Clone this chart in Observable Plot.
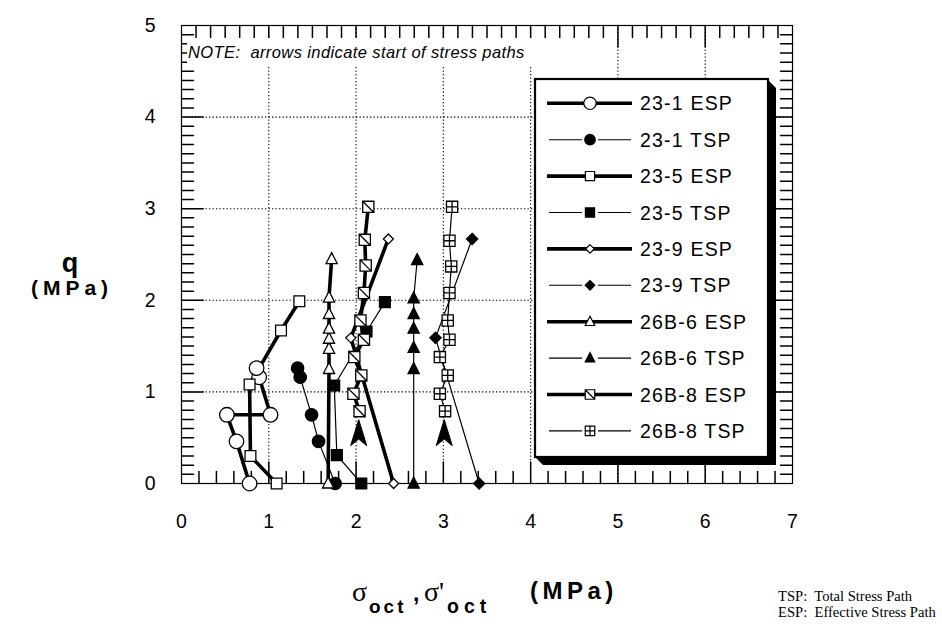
<!DOCTYPE html>
<html><head><meta charset="utf-8">
<script src="https://cdn.jsdelivr.net/npm/d3@7"></script>
<script src="https://cdn.jsdelivr.net/npm/@observablehq/plot@0.6"></script>
<style>
body{margin:0;background:#fff;}
#wrap{width:942px;height:624px;}
</style></head><body><div id="wrap"></div>
<script>
// ---- axis ticks ----
const xTicks = [0,1,2,3,4,5,6,7];
const yTicks = [0,1,2,3,4,5];
const xGrid = [1,2,3,4,5,6];
const yGrid = [1,2,3,4];

// ---- series (sigma_oct in MPa, q in MPa) ----
const names = ["23-1 ESP","23-1 TSP","23-5 ESP","23-5 TSP","23-9 ESP","23-9 TSP","26B-6 ESP","26B-6 TSP","26B-8 ESP","26B-8 TSP"];

const x231E = [0.78,0.63,0.52,1.02,0.89,0.86];
const y231E = [0.00,0.46,0.75,0.75,1.16,1.26];
const x231T = [1.76,1.57,1.49,1.36,1.33];
const y231T = [0.00,0.46,0.75,1.16,1.26];
const x235E = [1.09,0.79,0.78,1.14,1.35];
const y235E = [0.00,0.30,1.08,1.67,1.99];
const x235T = [2.06,1.78,1.75,2.12,2.33];
const y235T = [0.00,0.31,1.07,1.66,1.98];
const x239E = [2.43,1.94,2.37];
const y239E = [0.00,1.59,2.67];
const x239T = [3.41,2.91,3.33];
const y239T = [0.00,1.59,2.67];
const x266E = [1.68,1.69,1.69,1.69,1.69,1.69,1.69,1.72];
const y266E = [0.00,1.25,1.47,1.58,1.69,1.85,2.03,2.45];
const x266T = [2.66,2.66,2.66,2.66,2.66,2.66,2.70];
const y266T = [0.00,1.25,1.48,1.69,1.85,2.02,2.44];
const x268E = [2.04,1.97,2.06,1.98,2.09,2.05,2.09,2.11,2.10,2.14];
const y268E = [0.79,0.98,1.18,1.38,1.57,1.78,2.08,2.38,2.66,3.02];
const x268T = [3.02,2.96,3.05,2.96,3.07,3.05,3.07,3.09,3.07,3.10];
const y268T = [0.79,0.98,1.18,1.38,1.57,1.78,2.08,2.37,2.65,3.02];

// start-of-path arrows
const arrowX = [2.03,3.01];
const arrowY = [0.55,0.55];

// ---- styles ----
const seriesX = [x231E,x231T,x235E,x235T,x239E,x239T,x266E,x266T,x268E,x268T];
const seriesY = [y231E,y231T,y235E,y235T,y239E,y239T,y266E,y266T,y268E,y268T];
const kinds  = ["circle","circle","square","square","diamond","diamond","triangle","triangle","slash","cross"];
const filled = [false,true,false,true,false,true,false,true,false,false];
const radius = [7.3,6.2,5.4,5.4,5,5.6,5.6,5.6,5.6,5.6];

function makeSym(kind){
  return {draw(ctx, size){
    const h = Math.sqrt(size/Math.PI);
    const sq = () => {ctx.moveTo(-h,-h);ctx.lineTo(h,-h);ctx.lineTo(h,h);ctx.lineTo(-h,h);ctx.closePath();};
    switch(kind){
      case "circle": ctx.moveTo(h,0); ctx.arc(0,0,h,0,2*Math.PI); break;
      case "square": sq(); break;
      case "diamond": ctx.moveTo(0,-h);ctx.lineTo(h,0);ctx.lineTo(0,h);ctx.lineTo(-h,0);ctx.closePath(); break;
      case "triangle": ctx.moveTo(0,-1.15*h);ctx.lineTo(h,0.8*h);ctx.lineTo(-h,0.8*h);ctx.closePath(); break;
      case "slash": sq(); ctx.moveTo(-h,-h); ctx.lineTo(h,h); break;
      case "cross": sq(); ctx.moveTo(0,-h);ctx.lineTo(0,h);ctx.moveTo(-h,0);ctx.lineTo(h,0); break;
      case "arrow": ctx.moveTo(0,-1.35*h);ctx.lineTo(0.8*h,1.25*h);ctx.lineTo(0,0.6*h);ctx.lineTo(-0.8*h,1.25*h);ctx.closePath(); break;
    }
  }};
}

const tickShape = {draw(ctx, l){ ctx.moveTo(0,0); ctx.lineTo(0,-l); }};
const xMinor = d3.range(1,35).map(i => i/5);
const xTop = d3.range(1,42).map(i => i/6);
const yMinor = d3.range(1,50).map(i => i/10);
const isInt = v => Math.abs(v - Math.round(v)) < 1e-6;

const lineMarks = [], dotMarks = [];
names.forEach((n,i) => {
  const data = d3.zip(seriesX[i], seriesY[i]);
  const esp = n.endsWith("ESP");
  lineMarks.push(Plot.line(data, {x: d=>d[0], y: d=>d[1], stroke:"black", strokeWidth: esp ? 3.6 : 1.2, strokeLinejoin:"round"}));
  dotMarks.push(Plot.dot(data, {x: d=>d[0], y: d=>d[1], symbol: makeSym(kinds[i]), r: radius[i],
    fill: filled[i] ? "black" : "white", stroke:"black", strokeWidth: 1.3}));
});

const font = "'Liberation Sans', Arial, sans-serif";
const chart = Plot.plot({
  width: 942, height: 624,
  marginLeft: 181, marginRight: 150, marginTop: 25, marginBottom: 141,
  x: {domain:[0,7]}, y: {domain:[0,5]},
  style: {fontFamily: font, background:"white", color:"black", overflow:"visible"},
  marks: [
    Plot.gridX(xGrid, {stroke:"black", strokeOpacity:1, strokeWidth:1.1, strokeDasharray:"1.3,2.2"}),
    Plot.gridY(yGrid, {stroke:"black", strokeOpacity:1, strokeWidth:1.1, strokeDasharray:"1.3,2.2"}),
    Plot.axisX(xTicks, {tickSize:0, tickPadding:31, fontSize:19.5, label:null, tickFormat: d3.format("d")}),
    Plot.axisY(yTicks, {tickSize:0, tickPadding:26, fontSize:19.5, label:null, tickFormat: d3.format("d")}),
    Plot.vector(xMinor, {x:d=>d, frameAnchor:"bottom", rotate:0, anchor:"start", length: d=>isInt(d)?9:5, shape:tickShape, stroke:"black"}),
    Plot.vector(xTop, {x:d=>d, frameAnchor:"top", rotate:180, anchor:"start", length: d=>isInt(d)?9:5, shape:tickShape, stroke:"black"}),
    Plot.vector(yMinor, {y:d=>d, frameAnchor:"left", rotate:90, anchor:"start", length: d=>isInt(d)?9:5, shape:tickShape, stroke:"black"}),
    Plot.vector(yMinor, {y:d=>d, frameAnchor:"right", rotate:-90, anchor:"start", length: d=>isInt(d)?9:5, shape:tickShape, stroke:"black"}),
    Plot.frame({stroke:"black", strokeWidth:1.2}),
    ...lineMarks,
    ...dotMarks,
    Plot.dot(d3.zip(arrowX, arrowY), {x:d=>d[0], y:d=>d[1], symbol: makeSym("arrow"), r: 10, fill:"black", stroke:"black", strokeWidth:1})
  ]
});
document.getElementById("wrap").appendChild(chart);

// ---- overlays: note, legend, labels ----
const svg = d3.select(chart);
const ov = svg.append("g").attr("font-family", font).attr("fill","black").attr("text-anchor","start");

ov.append("rect").attr("x",187).attr("y",38).attr("width",346).attr("height",28).attr("fill","white");
ov.append("text").attr("x",188).attr("y",58).attr("font-size",16.5).attr("font-style","italic").attr("letter-spacing",0.4)
  .style("white-space","pre").text("NOTE:  arrows indicate start of stress paths");

// legend
const lg = ov.append("g");
lg.append("path").attr("d","M768,80 L776,88 L776,465 L543,465 L535,457 L768,457 Z").attr("fill","black");
lg.append("rect").attr("x",535).attr("y",79).attr("width",233).attr("height",378).attr("fill","white").attr("stroke","black").attr("stroke-width",2.2);
names.forEach((n,i) => {
  const cy = 103.3 + i*36.4;
  const esp = n.endsWith("ESP");
  if (esp) {
    lg.append("line").attr("x1",547).attr("x2",632).attr("y1",cy).attr("y2",cy).attr("stroke","black").attr("stroke-width",3.6);
  } else {
    lg.append("line").attr("x1",549).attr("x2",582).attr("y1",cy).attr("y2",cy).attr("stroke","black").attr("stroke-width",1.1);
    lg.append("line").attr("x1",598).attr("x2",631).attr("y1",cy).attr("y2",cy).attr("stroke","black").attr("stroke-width",1.1);
  }
  const rr = radius[i]*0.85;
  lg.append("path").attr("transform",`translate(590,${cy})`)
    .attr("d", d3.symbol(makeSym(kinds[i]), Math.PI*rr*rr)())
    .attr("fill", filled[i] ? "black" : "white").attr("stroke","black").attr("stroke-width",1.2);
  lg.append("text").attr("x",640).attr("y",cy).attr("dy","0.36em").attr("font-size",19.5)
    .attr("letter-spacing",1.2).text(n);
});

// y-axis label
ov.append("text").attr("x",70).attr("y",272).attr("text-anchor","middle").attr("font-size",27).attr("font-weight","bold").text("q");
ov.append("text").attr("x",72).attr("y",295).attr("text-anchor","middle").attr("font-size",21).attr("font-weight","bold").attr("letter-spacing",5).text("(MPa)");

// x-axis label
const serif = "'Liberation Serif', 'Times New Roman', serif";
ov.append("text").attr("x",352).attr("y",601).attr("font-size",28).attr("font-family",serif).text("σ");
ov.append("text").attr("x",369).attr("y",613).attr("font-size",19).attr("font-weight","bold").attr("letter-spacing",3).text("oct");
ov.append("text").attr("x",413).attr("y",601).attr("font-size",23).attr("font-weight","bold").text(",");
ov.append("text").attr("x",424).attr("y",601).attr("font-size",28).attr("font-family",serif).text("σ'");
ov.append("text").attr("x",447).attr("y",613).attr("font-size",19.5).attr("font-weight","bold").attr("letter-spacing",5).text("oct");
ov.append("text").attr("x",530).attr("y",599).attr("font-size",24).attr("font-weight","bold").attr("letter-spacing",4.5).text("(MPa)");

// footnote
ov.append("text").attr("x",778).attr("y",601).attr("font-size",14.6).attr("font-family",serif).style("white-space","pre").text("TSP:  Total Stress Path");
ov.append("text").attr("x",778).attr("y",617).attr("font-size",14.6).attr("font-family",serif).style("white-space","pre").text("ESP:  Effective Stress Path");
</script>
</body></html>
